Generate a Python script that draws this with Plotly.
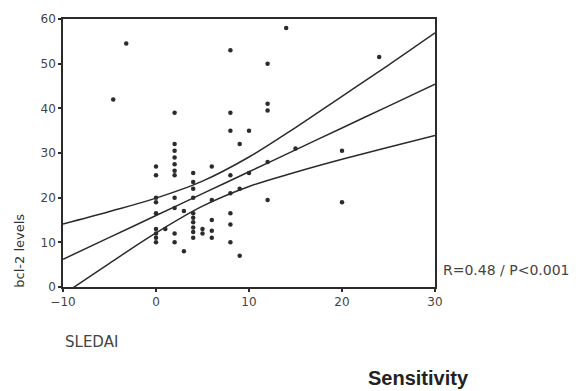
import plotly.graph_objects as go

# SLEDAI score vs bcl-2 level per patient
sledai = [-4.6, -3.2,
          0, 0, 0, 0, 0, 0, 0, 0, 0,
          1,
          2, 2, 2, 2, 2, 2, 2, 2, 2, 2, 2,
          3, 3,
          4, 4, 4, 4, 4, 4, 4, 4, 4, 4,
          5, 5,
          6, 6, 6, 6, 6,
          8, 8, 8, 8, 8, 8, 8, 8,
          9, 9, 9,
          10, 10,
          12, 12, 12, 12, 12,
          14, 15, 20, 20, 24]
bcl2 = [42, 54.5,
        27, 25, 20, 19, 16.5, 13, 12, 11, 10,
        13,
        39, 32, 30.5, 29, 27.5, 26, 25, 20, 17.7, 12, 10,
        17, 8,
        25.5, 23.5, 22, 20, 16.5, 15.5, 14.5, 13.3, 12.3, 11,
        13, 12,
        27, 19.5, 15, 12.6, 11,
        53, 39, 35, 25, 21, 16.5, 14, 10,
        32, 22, 7,
        35, 25.5,
        50, 41, 39.5, 28, 19.5,
        58, 31, 30.5, 19, 51.5]

# Regression line with 95% confidence band
fit_x = [-10, -5, 0, 5, 10, 15, 20, 25, 30]
fit_mean = [6.2, 11.1, 16.0, 20.9, 25.8, 30.7, 35.6, 40.5, 45.4]
ci_upper = [14.1, 16.9, 19.9, 23.7, 29.1, 35.7, 42.7, 49.7, 56.9]
ci_lower = [-1.7, 5.3, 12.1, 18.1, 22.5, 25.7, 28.6, 31.3, 33.9]

x_ticks = [-10, 0, 10, 20, 30]
y_ticks = [0, 10, 20, 30, 40, 50, 60]

ink = "#2b2b2b"
line_style = dict(color=ink, width=1.5, shape="spline")

fig = go.Figure()
for ys in (ci_upper, fit_mean, ci_lower):
    fig.add_trace(go.Scatter(x=fit_x, y=ys, mode="lines", line=line_style,
                             hoverinfo="skip", showlegend=False))
fig.add_trace(go.Scatter(x=sledai, y=bcl2, mode="markers",
                         marker=dict(size=4.5, color=ink), showlegend=False))

axis_common = dict(showline=True, linecolor=ink, linewidth=1.5, mirror=True,
                   ticks="outside", ticklen=3, tickcolor=ink, tickwidth=1.5,
                   showgrid=False, zeroline=False,
                   tickfont=dict(family="DejaVu Sans", size=12, color="#444"))

fig.update_xaxes(range=[-10, 30], tickvals=x_ticks, **axis_common)
fig.update_yaxes(range=[0, 60], tickvals=y_ticks, **axis_common)

fig.add_annotation(text="bcl-2 levels", xref="paper", yref="paper",
                   x=-0.118, y=0.136, xanchor="center", yanchor="middle",
                   textangle=-90, showarrow=False,
                   font=dict(family="DejaVu Sans", size=13, color="#333"))
fig.add_annotation(text="SLEDAI", xref="paper", yref="paper",
                   x=0.0, y=-0.205, xanchor="left", yanchor="middle",
                   showarrow=False,
                   font=dict(family="DejaVu Sans", size=15, color="#444"))
fig.add_annotation(text="R=0.48 / P<0.001", xref="paper", yref="paper",
                   x=1.015, y=0.063, xanchor="left", yanchor="middle",
                   showarrow=False,
                   font=dict(family="DejaVu Sans", size=14, color="#444"))
fig.add_annotation(text="<b>Sensitivity</b>", xref="paper", yref="paper",
                   x=0.955, y=-0.34, xanchor="center", yanchor="middle",
                   showarrow=False,
                   font=dict(family="Liberation Sans", size=20, color="#222"))

fig.update_layout(width=582, height=391,
                  margin=dict(l=63, r=147, t=15, b=104),
                  paper_bgcolor="white", plot_bgcolor="white")

fig.write_html("out.html")
